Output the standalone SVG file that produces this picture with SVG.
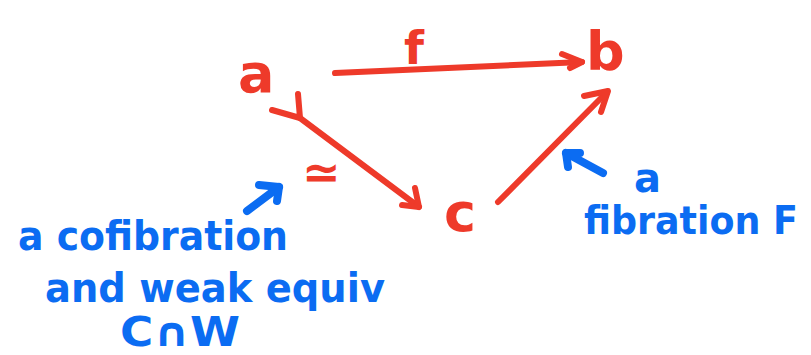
<svg xmlns="http://www.w3.org/2000/svg" width="811" height="355" viewBox="0 0 811 355">
<defs>
<style>
.red{fill:#ee3a2a;font-family:"DejaVu Sans",sans-serif;font-weight:bold}
.blue{fill:#0b6cf2;font-family:"DejaVu Sans",sans-serif;font-weight:bold}
.rl{stroke:#ee3a2a;stroke-width:6;fill:none;stroke-linecap:round;stroke-linejoin:round}
.bl{stroke:#0b6cf2;stroke-width:8;fill:none;stroke-linecap:round;stroke-linejoin:round}
</style>
</defs>
<rect width="811" height="355" fill="#fff"/>
<g id="node-a"><text class="red" x="238" y="92" font-size="54">a</text></g>
<g id="node-b"><text class="red" x="586" y="70" font-size="54">b</text></g>
<g id="node-c"><text class="red" x="444" y="231" font-size="54">c</text></g>
<g id="connectors">
<g id="f">
<path class="rl" d="M335 73 L582 62"/>
<path class="rl" d="M562 54 L582 62 L570 68"/>
<text class="red" x="404" y="64" font-size="46">f</text>
</g>
<g id="a-c">
<path class="rl" d="M272 110 L300 118 L298 94"/>
<path class="rl" d="M300 118 L419 207"/>
<path class="rl" d="M402 205 L419 207 L415 188"/>
<text class="red" x="302" y="188" font-size="46">≃</text>
</g>
<g id="c-b">
<path class="rl" d="M498 202 L607 92"/>
<path class="rl" d="M584 96 L608 91 L601 112"/>
</g>
<g id="blue-arrow-1">
<path class="bl" d="M247 211 L279 187"/>
<path class="bl" d="M259 185 L279 187 L277 201"/>
</g>
<g id="blue-arrow-2">
<path class="bl" d="M603 173 L566 153"/>
<path class="bl" d="M568 167 L566 153 L580 153"/>
</g>
</g>
<g id="label-cof">
<text class="blue" x="18" y="250" font-size="40" textLength="270" lengthAdjust="spacingAndGlyphs">a cofibration</text>
<text class="blue" x="45" y="302" font-size="40" textLength="340" lengthAdjust="spacingAndGlyphs">and weak equiv</text>
<text class="blue" x="120" y="346" font-size="40" textLength="120" lengthAdjust="spacingAndGlyphs">C∩W</text>
</g>
<g id="label-fib">
<text class="blue" x="634" y="192" font-size="40">a</text>
<text class="blue" transform="translate(584 234) scale(1 1.1)" x="0" y="0" font-size="36" textLength="214" lengthAdjust="spacingAndGlyphs">fibration F</text>
</g>
</svg>
